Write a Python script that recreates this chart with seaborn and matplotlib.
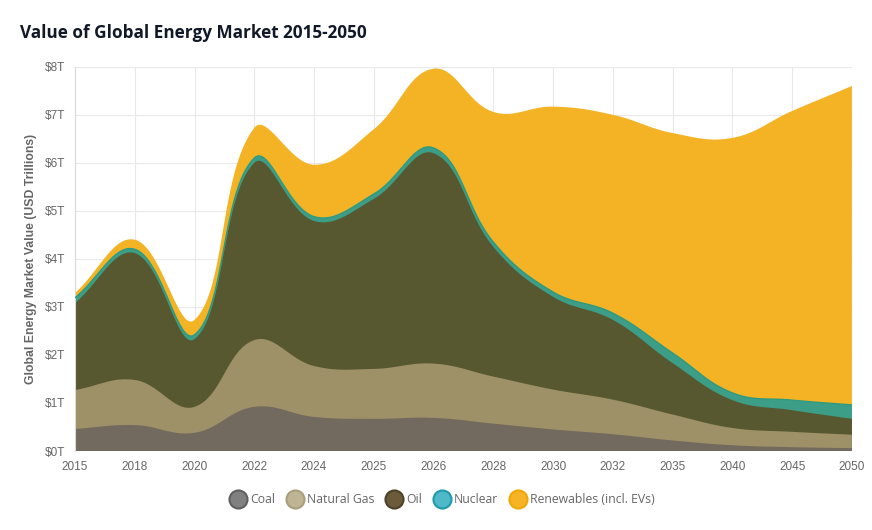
import numpy as np
import matplotlib
matplotlib.use("Agg")
import matplotlib.pyplot as plt
from matplotlib.lines import Line2D
import seaborn as sns

sns.set_style("whitegrid")
plt.rcParams['font.family'] = ['Liberation Sans', 'DejaVu Sans']

# data (USD trillions)
years = ['2015', '2018', '2020', '2022', '2024', '2025', '2026',
         '2028', '2030', '2032', '2035', '2040', '2045', '2050']
coal = [0.46, 0.54, 0.38, 0.92, 0.71, 0.67, 0.69, 0.57, 0.45, 0.35, 0.22, 0.12, 0.08, 0.06]
natural_gas = [0.81, 0.94, 0.54, 1.39, 1.06, 1.04, 1.13, 0.98, 0.83, 0.72, 0.54, 0.36, 0.32, 0.28]
oil = [1.81, 2.64, 1.41, 3.69, 3.02, 3.54, 4.38, 2.70, 1.93, 1.66, 1.07, 0.58, 0.45, 0.33]
nuclear = [0.11, 0.08, 0.09, 0.10, 0.09, 0.10, 0.11, 0.10, 0.10, 0.14, 0.21, 0.15, 0.21, 0.29]
renewables = [0.10, 0.20, 0.31, 0.63, 1.08, 1.35, 1.65, 2.71, 3.86, 4.13, 4.58, 5.31, 6.02, 6.64]

series_names = ['Coal', 'Natural Gas', 'Oil', 'Nuclear', 'Renewables (incl. EVs)']
fill_colors = ['#726a5e', '#9e9067', '#575830', '#3c9e86', '#f4b324']
legend_face = ['#808080', '#bfb594', '#6b5b3b', '#4fb9c9', '#f5b325']
legend_edge = ['#5f5f5f', '#a89e7c', '#4d4127', '#1e9aab', '#f0a800']

X_PX, Y_PX = 59.8, 48.0  # approx pixels per unit, for spline shape


def spline(xs, ys, tension=0.4, n=40):
    # bezier smoothing similar to chart.js line tension
    px = np.asarray(xs, float) * X_PX
    py = np.asarray(ys, float) * Y_PX
    k = len(px)
    cp_prev = np.zeros((k, 2))
    cp_next = np.zeros((k, 2))
    for i in range(k):
        cur = np.array([px[i], py[i]])
        prev = np.array([px[max(i - 1, 0)], py[max(i - 1, 0)]])
        nxt = np.array([px[min(i + 1, k - 1)], py[min(i + 1, k - 1)]])
        d01 = np.hypot(*(cur - prev))
        d12 = np.hypot(*(nxt - cur))
        tot = d01 + d12
        s01 = d01 / tot if tot else 0
        s12 = d12 / tot if tot else 0
        cp_prev[i] = cur - tension * s01 * (nxt - prev)
        cp_next[i] = cur + tension * s12 * (nxt - prev)
    t = np.linspace(0, 1, n)[:, None]
    out = []
    for i in range(k - 1):
        p0 = np.array([px[i], py[i]])
        p3 = np.array([px[i + 1], py[i + 1]])
        p1, p2 = cp_next[i], cp_prev[i + 1]
        seg = ((1 - t) ** 3) * p0 + 3 * ((1 - t) ** 2) * t * p1 + 3 * (1 - t) * t ** 2 * p2 + t ** 3 * p3
        out.append(seg if i == 0 else seg[1:])
    out = np.vstack(out)
    y = np.clip(out[:, 1] / Y_PX, 0, None)
    return out[:, 0] / X_PX, y


fig, ax = plt.subplots(figsize=(8.72, 5.30), dpi=100)
fig.subplots_adjust(left=0.086, right=0.977, bottom=0.149, top=0.874)

xi = np.arange(len(years))
stack = np.cumsum(np.array([coal, natural_gas, oil, nuclear, renewables]), axis=0)

# paint top layer first, then lower layers on top of it
for idx in range(len(series_names) - 1, -1, -1):
    sx, sy = spline(xi, stack[idx])
    ax.fill(np.concatenate([sx, [sx[-1], sx[0]]]),
            np.concatenate([sy, [0, 0]]),
            color=fill_colors[idx], linewidth=0, zorder=2)
    if series_names[idx] == 'Nuclear':
        ax.plot(sx, sy, color='#2f9a82', linewidth=1.0, zorder=3)

ax.set_xlim(0, len(years) - 1)
ax.set_ylim(0, 8)
ax.set_xticks(xi)
ax.set_xticklabels(years)
ax.set_yticks(range(0, 9))
ax.set_yticklabels([f'${v}T' for v in range(0, 9)])

ax.grid(True, color='#e8e8e8', linewidth=0.8)
ax.set_axisbelow(True)
for side in ['top', 'right', 'bottom']:
    ax.spines[side].set_visible(False)
ax.spines['left'].set_color('#d9d9d9')
ax.spines['left'].set_linewidth(0.8)
ax.tick_params(axis='both', colors='#666666', labelsize=8.5, length=4,
               width=0.8, direction='out', pad=3)
ax.tick_params(axis='x', color='#e0e0e0')
ax.tick_params(axis='y', color='#d0d0d0')
for lab in ax.get_xticklabels() + ax.get_yticklabels():
    lab.set_color('#666666')

ax.set_ylabel('Global Energy Market Value (USD Trillions)', fontsize=8.8,
              fontweight='bold', color='#666666', labelpad=6)

fig.text(0.023, 0.937, 'Value of Global Energy Market 2015-2050', fontsize=12.3,
         fontweight='bold', color='#111827', family=['Open Sans', 'DejaVu Sans'],
         va='center', ha='left')

handles = [Line2D([0], [0], marker='o', linestyle='', markersize=13,
                  markerfacecolor=legend_face[i], markeredgecolor=legend_edge[i],
                  markeredgewidth=1.5, label=series_names[i])
           for i in range(len(series_names))]
leg = fig.legend(handles=handles, loc='center', bbox_to_anchor=(0.505, 0.057),
                 ncol=5, frameon=False, handletextpad=0.0, columnspacing=0.6,
                 prop={'family': ['Open Sans', 'DejaVu Sans'], 'size': 8.8})
for txt in leg.get_texts():
    txt.set_color('#666666')

fig.savefig('out.png', dpi=100)
